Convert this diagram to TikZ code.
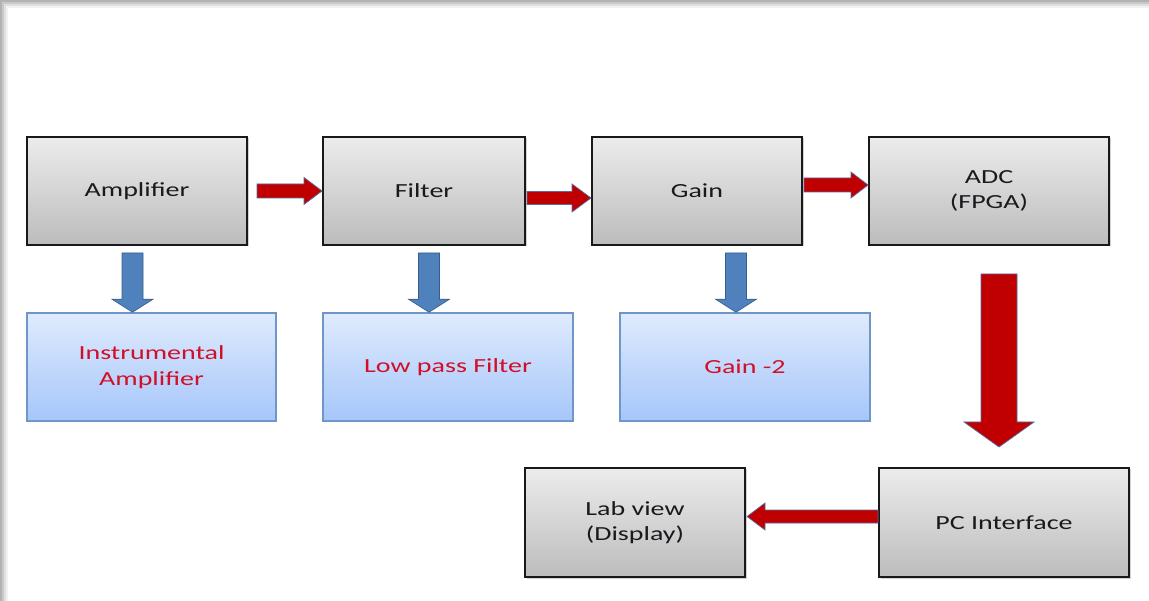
\documentclass[tikz,border=0pt]{standalone}
\usepackage{fontspec}
\setmainfont{Carlito}[FakeStretch=1.40]
\usetikzlibrary{calc,shadows}
\definecolor{boxtext}{RGB}{25,25,30}
\definecolor{redtext}{RGB}{210,15,40}
\definecolor{grayborder}{RGB}{25,25,25}
\definecolor{graytop}{RGB}{236,236,236}
\definecolor{graybot}{RGB}{188,188,188}
\definecolor{bluetop}{RGB}{223,235,253}
\definecolor{bluebot}{RGB}{166,198,250}
\definecolor{blueborder}{RGB}{110,150,200}
\definecolor{arrowred}{RGB}{192,0,0}
\definecolor{arrowredline}{RGB}{80,110,160}
\definecolor{arrowblue}{RGB}{79,129,189}
\definecolor{arrowblueline}{RGB}{56,93,138}
\tikzset{
  graybox/.style={draw=grayborder, line width=2pt, top color=graytop, bottom color=graybot,
    text=boxtext, align=center, inner sep=0pt, minimum height=108pt,
    font=\fontsize{20}{25}\selectfont,
    drop shadow={shadow xshift=1.5pt, shadow yshift=-1.5pt, opacity=0.35}},
  bluebox/.style={draw=blueborder, line width=1.5pt, top color=bluetop, bottom color=bluebot,
    text=redtext, align=center, inner sep=0pt, minimum height=108pt,
    font=\fontsize{20}{26}\selectfont,
    drop shadow={shadow xshift=1.2pt, shadow yshift=-1.2pt, opacity=0.25}},
  redarrow/.style={fill=arrowred, draw=arrowredline, line width=0.7pt, line join=miter},
  bluearrow/.style={fill=arrowblue, draw=arrowblueline, line width=0.6pt, line join=miter}
}
% #1 style, #2 start, #3 tip, #4 shaft half width, #5 head half width, #6 head length
\newcommand\blockarrow[6]{%
  \coordinate (ba-e) at ($(#3)!#6!(#2)$);
  \filldraw[#1] ($(#2)!#4!90:(#3)$) -- ($(ba-e)!#4!90:(#3)$) -- ($(ba-e)!#5!90:(#3)$)
    -- (#3) -- ($(ba-e)!#5!-90:(#3)$) -- ($(ba-e)!#4!-90:(#3)$) -- ($(#2)!#4!-90:(#3)$) -- cycle;
}
\begin{document}
\begin{tikzpicture}[x=1pt,y=-1pt]
\useasboundingbox (0,0) rectangle (1149,601);
% page frame with soft shadow
\fill[gray!60] (0,0) rectangle (1149,601);
\fill[gray!42] (2,2) rectangle (1149,601);
\fill[gray!25] (4,4.5) rectangle (1149,601);
\fill[gray!10] (6,6.5) rectangle (1149,601);
\fill[white] (7.5,8) rectangle (1149,601);

% top row
\node[graybox, minimum width=220pt] (amp) at (137,191) {Amplifier};
\node[graybox, minimum width=202pt] (filter) at (424,191) {Filter};
\node[graybox, minimum width=210pt] (gain) at (697,191) {Gain};
\node[graybox, minimum width=240pt] (adc) at (989,191) {ADC\\(FPGA)};
% second row
\node[bluebox, minimum width=249pt] (inst) at (151.5,367) {Instrumental\\Amplifier};
\node[bluebox, minimum width=250pt] (lpf) at (448,367) {Low pass Filter};
\node[bluebox, minimum width=250pt] (gaintwo) at (745,367) {Gain -2};
% bottom row
\node[graybox, minimum width=220pt, minimum height=109pt] (lab) at (635,522.5) {Lab view\\(Display)};
\node[graybox, minimum width=250pt, minimum height=109pt] (pc) at (1004,522.5) {PC Interface};

% red arrows
\coordinate (s1) at ($(amp.east)+(9,0)$);
\blockarrow{redarrow}{s1}{filter.west}{7pt}{13.5pt}{18pt}
\coordinate (s2) at ($(filter.east)+(1,7)$);
\coordinate (e2) at ($(gain.west)+(0,7)$);
\blockarrow{redarrow}{s2}{e2}{6.5pt}{14pt}{19pt}
\coordinate (s3) at ($(gain.east)+(1,-6)$);
\coordinate (e3) at ($(adc.west)+(0,-6)$);
\blockarrow{redarrow}{s3}{e3}{7pt}{13pt}{17pt}
\coordinate (s4) at ($(adc.south)+(10,28)$);
\coordinate (e4) at ($(pc.north)+(-5,-20)$);
\blockarrow{redarrow}{s4}{e4}{18pt}{35pt}{25pt}
\coordinate (s5) at ($(pc.west)+(0,-6)$);
\coordinate (e5) at ($(lab.east)+(1,-6)$);
\blockarrow{redarrow}{s5}{e5}{6.5pt}{13.5pt}{18pt}

% blue arrows
\coordinate (b1s) at ($(amp.south)+(-4.5,7)$);
\coordinate (b1e) at ($(inst.north)+(-19,0)$);
\blockarrow{bluearrow}{b1s}{b1e}{10.5pt}{20.5pt}{13pt}
\coordinate (b2s) at ($(filter.south)+(5,7)$);
\coordinate (b2e) at ($(lpf.north)+(-19,0)$);
\blockarrow{bluearrow}{b2s}{b2e}{10.5pt}{20.5pt}{13pt}
\coordinate (b3s) at ($(gain.south)+(39,7)$);
\coordinate (b3e) at ($(gaintwo.north)+(-9,0)$);
\blockarrow{bluearrow}{b3s}{b3e}{10.5pt}{20.5pt}{13pt}
\end{tikzpicture}
\end{document}
